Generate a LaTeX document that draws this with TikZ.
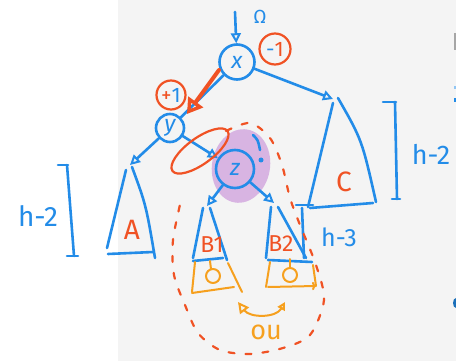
\documentclass[tikz,border=0pt]{standalone}
\usepackage{fontspec}
\setmainfont{Fira Sans}
\usetikzlibrary{arrows.meta,calc}
\definecolor{pen}{RGB}{35,140,232}
\definecolor{hot}{RGB}{240,82,36}
\definecolor{amber}{RGB}{246,160,30}
\definecolor{lilac}{RGB}{216,180,226}
\definecolor{paper}{RGB}{244,244,244}
\begin{document}
\begin{tikzpicture}[x=1pt,y=-1pt,line cap=round,line join=round,
  ink/.style={draw=pen,line width=2.6pt},
  redink/.style={draw=hot,line width=2.2pt},
  orangeink/.style={draw=amber,line width=2pt},
  vertex/.style={circle,draw=pen,line width=2.6pt,text=pen,inner sep=0pt,
    font=\fontsize{23}{23}\selectfont\itshape},
  edgearrow/.style={-{Triangle[open,length=10pt,width=10pt,line width=2pt]}},
  lbl/.style={font=\fontsize{#1}{#1}\selectfont},
  badge/.style={circle,draw=hot,line width=2.2pt,inner sep=0pt,lbl=21},
]
% paper: white margin on the left, grey sheet on the right
\fill[white] (0,0) rectangle (118,361);
\fill[paper] (118,0) rectangle (456,361);
\useasboundingbox (0,0) rectangle (456,361);

% highlight behind z
\fill[lilac, rotate around={-10:(241,166)}] (241,166) ellipse [x radius=29, y radius=37];

% vertices
\node[vertex,minimum size=35pt] (x) at (237,62) {x};
\node[vertex,minimum size=28pt] (y) at (170,128) {y};
\node[vertex,minimum size=38pt] (z) at (235,169) {z};

% incoming pointer and its label
\coordinate (in) at (235,12);
\draw[ink,edgearrow] (in) -- (x);
\node[text=pen,lbl=19] (omega) at (260,17) {Ω};

% balance badges
\node[badge,minimum size=31pt] (dec) at (275,49) {\textcolor{pen}{-}\textcolor{hot}{1}};
\node[badge,minimum size=29pt] (inc) at (171,95) {\textcolor{hot}{+}\textcolor{pen}{1}};

% subtree apexes
\coordinate (capex) at (333,99);
\coordinate (aapex) at (130,165);
\coordinate (b1apex) at (207,206);
\coordinate (b2apex) at (274,203);

% tree edges
\draw[ink,edgearrow] (x) -- (capex);
\draw[ink] (x) -- (y);
\draw[ink,edgearrow] (y) -- (aapex);
\draw[ink,edgearrow] (y) -- (z);
\draw[ink,edgearrow] (z) -- (b1apex);
\draw[ink,edgearrow] (z) -- (b2apex);

% rotation arrow x -> y
\coordinate (rs) at (219,70);
\coordinate (re) at (187,114);
\draw[hot,line width=4pt,-{Triangle[open,length=15pt,width=18pt,line width=3.4pt]}] (rs) -- (re);

% ring around the y--z edge
\draw[redink, rotate around={36:(200,151)}] (200,151) ellipse [x radius=34, y radius=13];

% question mark near z
\draw[ink] (253,135) .. controls (258,140) .. (260,150);
\fill[pen] (261,160) circle (2.5);

% subtree C
\draw[ink] (333,103) -- (308,207);
\draw[ink] (338,98) .. controls (362,140) .. (376,202);
\draw[ink] (310,208) -- (373,203);
\node[text=hot,lbl=28] (clbl) at (344,182) {C};
\draw[ink] (383,102) -- (396,102);
\draw[ink] (395,102) -- (397,199);
\draw[ink] (392,199) -- (400,199);
\node[text=pen,lbl=27] (hc) at (431,154) {h-2};

% subtree A
\draw[ink] (126,170) -- (107,248);
\draw[ink] (132,167) .. controls (146,205) .. (155,258);
\draw[ink] (108,254) -- (153,252);
\node[text=hot,lbl=28] (albl) at (132,230) {A};
\draw[ink] (58,165) -- (68,165);
\draw[ink] (67,165) -- (74,256);
\draw[ink] (67,256) -- (78,256);
\node[text=pen,lbl=28] (ha) at (38,216) {h-2};

% subtree B1
\draw[ink] (203,208) -- (193,258);
\draw[ink] (210,208) -- (227,260);
\draw[ink] (193,261) -- (223,258);
\node[text=hot,lbl=23] (b1lbl) at (212,245) {B1};

% subtree B2
\draw[ink] (271,207) -- (266,258);
\draw[ink] (278,207) -- (306,258);
\draw[ink] (268,260) -- (312,262);
\node[text=hot,lbl=23] (b2lbl) at (281,244) {B2};
\draw[ink] (296,205) -- (313,205);
\draw[ink] (302,208) -- (304,258);
\node[text=pen,lbl=25] (hb) at (339,237) {h-3};

% extra level under B1
\draw[orangeink] (195,262) -- (192,292);
\draw[orangeink] (228,263) -- (242,292);
\draw[orangeink] (192,293) -- (234,287);
\draw[orangeink] (213,276) circle (7);
\draw[orangeink] (210,261) -- (211,269);

% extra level under B2
\draw[orangeink] (270,262) -- (266,287);
\draw[orangeink] (313,265) -- (316,286);
\draw[orangeink,-{To[length=4pt]}] (268,287) -- (316,286);
\draw[orangeink] (290,275) circle (7);
\draw[orangeink] (290,259) -- (290,268);

% either one or the other
\coordinate (ol) at (238,302);
\coordinate (or) at (285,302);
\draw[orangeink,{Triangle[open,length=11pt,width=11pt]}-{Triangle[open,length=8pt,width=8pt]}]
  (ol) .. controls (250,318) and (276,318) .. (or);
\node[text=amber,lbl=27] (ou) at (266,332) {ou};

% dashed region around the z subtree
\draw[hot,line width=2.2pt,dash pattern=on 6pt off 11pt]
  plot[smooth] coordinates {(226,131) (250,123) (270,138) (282,165) (290,198)
  (300,225) (316,265) (324,300) (310,335) (283,348) (250,354) (220,350)
  (198,333) (185,305) (174,275) (173,240) (182,196)};

% strokes running off the right edge
\fill[gray!70] (454,33) rectangle (456,50);
\fill[pen!50] (454,86) rectangle (456,89);
\fill[pen] (454,98) rectangle (456,102);
\fill[pen!80!black] (456,303) ellipse [x radius=3, y radius=5];
\end{tikzpicture}
\end{document}
